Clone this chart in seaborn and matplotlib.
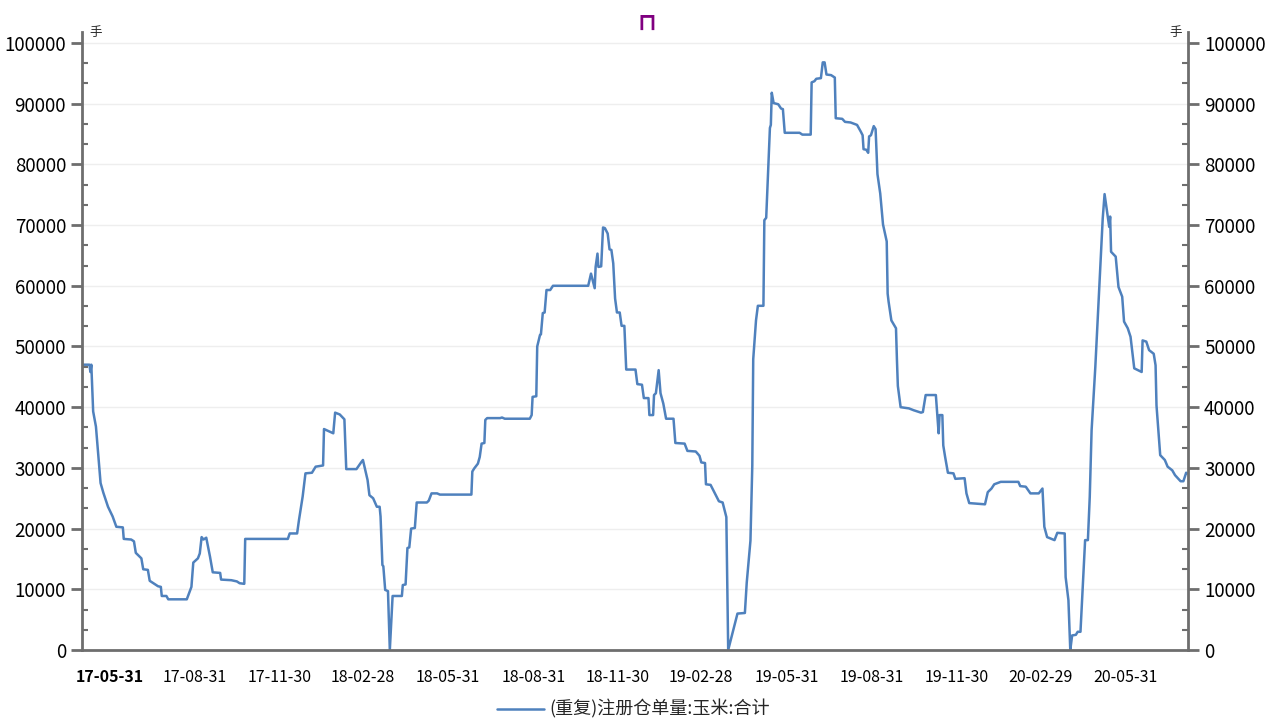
"""
注册仓单量:玉米:合计 — 走势图
"""

import pandas as pd
import numpy as np
import matplotlib
matplotlib.use("Agg")
import matplotlib.pyplot as plt
import matplotlib.dates as mdates
from matplotlib.ticker import MultipleLocator, AutoMinorLocator, FuncFormatter
import seaborn as sns

# ============================================================================
# 数据
# ============================================================================

dates = [
    "2017-05-02", "2017-05-09", "2017-05-10", "2017-05-11", "2017-05-13", "2017-05-16",
    "2017-05-21", "2017-05-24", "2017-05-29", "2017-06-03", "2017-06-07", "2017-06-14",
    "2017-06-15", "2017-06-23", "2017-06-26", "2017-06-28", "2017-07-04", "2017-07-06",
    "2017-07-11", "2017-07-13", "2017-07-22", "2017-07-25", "2017-07-26", "2017-07-31",
    "2017-08-02", "2017-08-22", "2017-08-27", "2017-08-29", "2017-09-03", "2017-09-05",
    "2017-09-07", "2017-09-09", "2017-09-12", "2017-09-16", "2017-09-19", "2017-09-27",
    "2017-09-28", "2017-10-09", "2017-10-15", "2017-10-18", "2017-10-23", "2017-10-24",
    "2017-12-09", "2017-12-11", "2017-12-19", "2017-12-21", "2017-12-25", "2017-12-28",
    "2018-01-04", "2018-01-08", "2018-01-16", "2018-01-17", "2018-01-27", "2018-01-29",
    "2018-02-03", "2018-02-08", "2018-02-10", "2018-02-21", "2018-02-26", "2018-02-28",
    "2018-03-05", "2018-03-07", "2018-03-11", "2018-03-15", "2018-03-18", "2018-03-19",
    "2018-03-21", "2018-03-22", "2018-03-24", "2018-03-27", "2018-03-29", "2018-04-01",
    "2018-04-11", "2018-04-12", "2018-04-15", "2018-04-17", "2018-04-19", "2018-04-21",
    "2018-04-25", "2018-04-27", "2018-05-08", "2018-05-10", "2018-05-13", "2018-05-19",
    "2018-05-22", "2018-06-25", "2018-06-26", "2018-06-28", "2018-07-02", "2018-07-04",
    "2018-07-06", "2018-07-09", "2018-07-10", "2018-07-12", "2018-07-26", "2018-07-28",
    "2018-07-31", "2018-08-27", "2018-08-29", "2018-08-30", "2018-09-03", "2018-09-04",
    "2018-09-07", "2018-09-08", "2018-09-10", "2018-09-12", "2018-09-14", "2018-09-18",
    "2018-09-21", "2018-10-29", "2018-11-01", "2018-11-05", "2018-11-06", "2018-11-08",
    "2018-11-09", "2018-11-12", "2018-11-14", "2018-11-16", "2018-11-19", "2018-11-21",
    "2018-11-23", "2018-11-25", "2018-11-27", "2018-11-29", "2018-12-02", "2018-12-04",
    "2018-12-07", "2018-12-09", "2018-12-19", "2018-12-21", "2018-12-26", "2018-12-28",
    "2019-01-02", "2019-01-03", "2019-01-07", "2019-01-08", "2019-01-10", "2019-01-13",
    "2019-01-15", "2019-01-18", "2019-01-21", "2019-01-29", "2019-01-31", "2019-02-10",
    "2019-02-13", "2019-02-22", "2019-02-26", "2019-02-28", "2019-03-04", "2019-03-05",
    "2019-03-10", "2019-03-14", "2019-03-19", "2019-03-23", "2019-03-27", "2019-03-29",
    "2019-04-08", "2019-04-16", "2019-04-18", "2019-04-22", "2019-04-24", "2019-04-25",
    "2019-04-28", "2019-04-30", "2019-05-06", "2019-05-07", "2019-05-09", "2019-05-13",
    "2019-05-14", "2019-05-15", "2019-05-17", "2019-05-22", "2019-05-25", "2019-05-27",
    "2019-05-29", "2019-06-14", "2019-06-17", "2019-06-26", "2019-06-27", "2019-06-30",
    "2019-07-02", "2019-07-07", "2019-07-09", "2019-07-11", "2019-07-13", "2019-07-18",
    "2019-07-22", "2019-07-23", "2019-07-30", "2019-08-02", "2019-08-08", "2019-08-15",
    "2019-08-19", "2019-08-21", "2019-08-22", "2019-08-25", "2019-08-27", "2019-08-28",
    "2019-08-30", "2019-09-02", "2019-09-04", "2019-09-06", "2019-09-09", "2019-09-12",
    "2019-09-16", "2019-09-17", "2019-09-18", "2019-09-21", "2019-09-26", "2019-09-27",
    "2019-09-28", "2019-10-01", "2019-10-10", "2019-10-15", "2019-10-23", "2019-10-25",
    "2019-10-28", "2019-11-08", "2019-11-11", "2019-11-12", "2019-11-15", "2019-11-16",
    "2019-11-18", "2019-11-21", "2019-11-27", "2019-11-29", "2019-12-09", "2019-12-11",
    "2019-12-14", "2019-12-31", "2020-01-03", "2020-01-07", "2020-01-10", "2020-01-17",
    "2020-02-05", "2020-02-07", "2020-02-13", "2020-02-18", "2020-02-27", "2020-03-02",
    "2020-03-04", "2020-03-07", "2020-03-15", "2020-03-18", "2020-03-26", "2020-03-27",
    "2020-03-30", "2020-04-01", "2020-04-03", "2020-04-07", "2020-04-09", "2020-04-12",
    "2020-04-15", "2020-04-17", "2020-04-20", "2020-04-22", "2020-04-24", "2020-04-28",
    "2020-04-30", "2020-05-06", "2020-05-08", "2020-05-12", "2020-05-13", "2020-05-14",
    "2020-05-15", "2020-05-20", "2020-05-23", "2020-05-27", "2020-05-29", "2020-06-02",
    "2020-06-05", "2020-06-09", "2020-06-17", "2020-06-18", "2020-06-22", "2020-06-25",
    "2020-06-30", "2020-07-02", "2020-07-03", "2020-07-07", "2020-07-12", "2020-07-15",
    "2020-07-20", "2020-07-23", "2020-07-29", "2020-08-01", "2020-08-04", "2020-08-05",
]

values = [
    47000, 47000, 45800, 47000, 39300, 36800,
    27500, 25900, 23600, 22000, 20300, 20200,
    18300, 18200, 17900, 16000, 15100, 13300,
    13200, 11400, 10500, 10400, 8900, 8900,
    8350, 8350, 10400, 14400, 15100, 15900,
    18600, 18200, 18500, 15400, 12800, 12700,
    11600, 11500, 11300, 11000, 10900, 18300,
    18300, 19200, 19200, 21400, 25300, 29100,
    29200, 30200, 30400, 36400, 35700, 39100,
    38800, 38000, 29800, 29800, 30900, 31300,
    28000, 25500, 25000, 23600, 23600, 22000,
    14000, 13800, 9900, 9700, 0, 8900,
    8900, 10700, 10800, 16800, 16900, 20000,
    20100, 24300, 24300, 24600, 25800, 25800,
    25600, 25600, 29400, 29900, 30700, 31800,
    34000, 34100, 37900, 38200, 38200, 38300,
    38100, 38100, 38700, 41700, 41800, 50000,
    51900, 52000, 55500, 55600, 59300, 59300,
    60000, 60000, 62000, 59600, 63100, 65300,
    63100, 63200, 69600, 69500, 68600, 66000,
    65900, 63700, 57900, 55600, 55600, 53400,
    53400, 46200, 46200, 43800, 43700, 41500,
    41500, 38700, 38700, 42000, 42300, 46100,
    42300, 40600, 38100, 38100, 34100, 34000,
    32800, 32700, 32000, 30900, 30800, 27300,
    27200, 26000, 24500, 24300, 21900, 0,
    6000, 6100, 11100, 18000, 30400, 47900,
    54300, 56700, 56700, 70800, 71200, 86000,
    86500, 91800, 90100, 89900, 89200, 89100,
    85200, 85200, 84900, 84900, 93500, 93700,
    94100, 94200, 96800, 96800, 94800, 94700,
    94300, 87600, 87500, 87000, 86900, 86500,
    85400, 84800, 82500, 82400, 81900, 84600,
    84800, 86300, 85800, 78400, 75200, 70100,
    67300, 58700, 57400, 54300, 53000, 47900,
    43500, 40000, 39800, 39500, 39100, 39200,
    42000, 42000, 35700, 38700, 38700, 33700,
    31800, 29200, 29100, 28200, 28300, 25800,
    24200, 24000, 26000, 26600, 27300, 27700,
    27700, 27000, 26900, 25800, 25800, 26600,
    20300, 18600, 18100, 19300, 19200, 12000,
    8200, 0, 2400, 2500, 3000, 3000,
    12000, 18100, 18100, 25200, 36200, 46600,
    52700, 71100, 75100, 70800, 69700, 71400,
    65600, 64800, 59800, 58200, 54100, 53000,
    51600, 46400, 45800, 51000, 50800, 49400,
    48800, 46900, 40300, 32100, 31300, 30200,
    29600, 28800, 27800, 27800, 29200, 29100,
]

series_name = "(重复)注册仓单量:玉米:合计"
unit_label = "手"
title_text = "⊓"

major_tick_dates = [
    "2017-05-31", "2017-08-31", "2017-11-30", "2018-02-28", "2018-05-31",
    "2018-08-31", "2018-11-30", "2019-02-28", "2019-05-31", "2019-08-31",
    "2019-11-30", "2020-02-29", "2020-05-31",
]

df = pd.DataFrame({"date": pd.to_datetime(dates), "value": values})

# ============================================================================
# 绘图
# ============================================================================

sns.set_style("white")
plt.rcParams["font.family"] = ["Noto Sans CJK SC", "DejaVu Sans"]

fig = plt.figure(figsize=(12.66, 7.18), dpi=100)
ax = fig.add_axes([0.0648, 0.0947, 0.8736, 0.8607])

sns.lineplot(data=df, x="date", y="value", color="#4F81BD", linewidth=1.8,
             label=series_name, ax=ax)

ax.set_xlim(pd.Timestamp("2017-05-01"), pd.Timestamp("2020-08-06"))
ax.set_ylim(0, 101800)
ax.set_xlabel("")
ax.set_ylabel("")

# y 轴: 左右两侧
ax.yaxis.set_major_locator(MultipleLocator(10000))
ax.yaxis.set_minor_locator(AutoMinorLocator(3))
ax.yaxis.set_major_formatter(FuncFormatter(lambda v, p: f"{int(v)}" if v <= 100000 else ""))
ax.tick_params(axis="y", which="both", left=True, right=True, labelleft=True,
               labelright=True, colors="#6e6e6e", labelcolor="black", labelsize=13.5)
ax.tick_params(axis="y", which="major", direction="out", length=8, width=2)
ax.tick_params(axis="y", which="minor", direction="in", length=4, width=1.5)
ax.grid(axis="y", which="major", color="#eeeeee", linewidth=1)
ax.set_axisbelow(True)

# x 轴: 季度末主刻度, 月末次刻度
ax.xaxis.set_major_locator(mdates.ticker.FixedLocator(mdates.date2num(pd.to_datetime(major_tick_dates))))
ax.xaxis.set_minor_locator(mdates.MonthLocator(bymonthday=-1))
ax.xaxis.set_major_formatter(mdates.DateFormatter("%y-%m-%d"))
ax.tick_params(axis="x", which="both", direction="out", colors="#6e6e6e",
               labelcolor="black", labelsize=11.5, pad=6)
ax.tick_params(axis="x", which="major", length=8, width=2)
ax.tick_params(axis="x", which="minor", length=4, width=1.5)
ax.get_xticklabels()[0].set_fontweight("semibold")

for side in ["left", "right", "bottom"]:
    ax.spines[side].set_color("#6e6e6e")
    ax.spines[side].set_linewidth(2)
ax.spines["top"].set_visible(False)

# 单位 / 标题
fig.text(0.0705, 0.955, unit_label, fontsize=9, ha="left", va="center")
fig.text(0.9335, 0.955, unit_label, fontsize=9, ha="right", va="center")
fig.text(0.511, 0.968, title_text, fontsize=17, color="#800080", ha="center",
         va="center", fontweight="bold", family=["DejaVu Sans"])

# 图例
ax.legend(loc="center", bbox_to_anchor=(0.5, 0.012), bbox_transform=fig.transFigure,
          frameon=False, fontsize=13, handlelength=2.6, handletextpad=0.3)

plt.savefig("out.png", dpi=100)
